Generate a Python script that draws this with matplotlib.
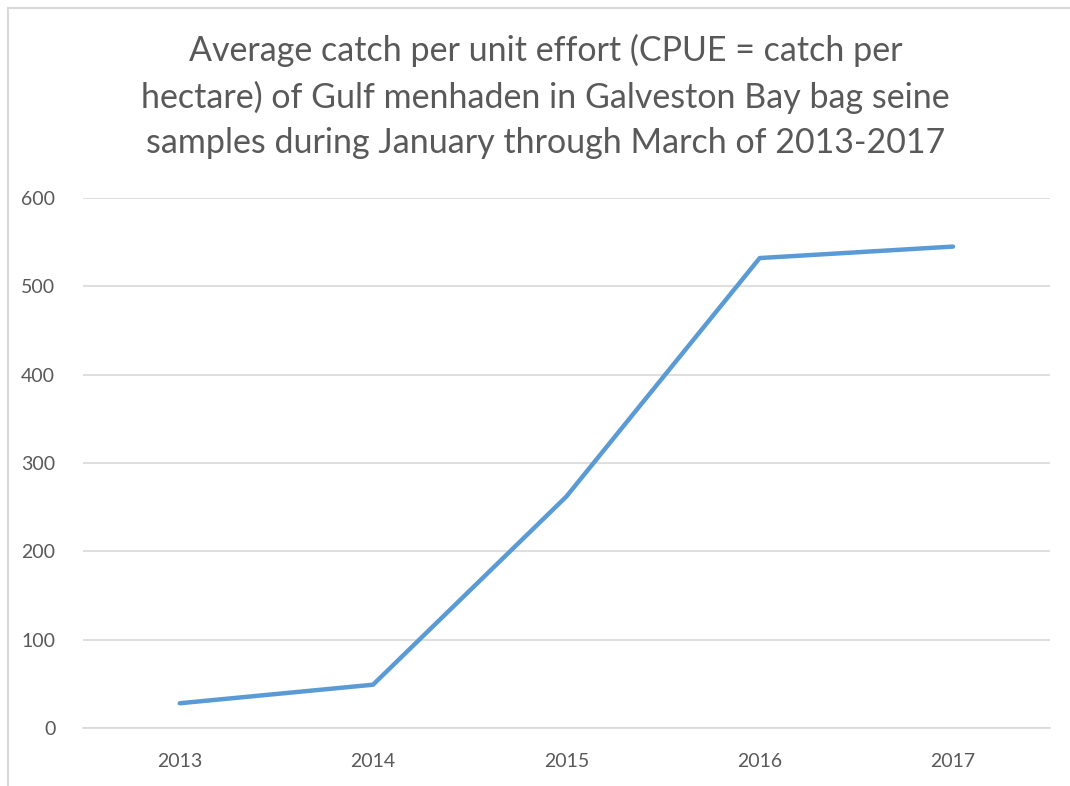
import matplotlib.pyplot as plt
from matplotlib.lines import Line2D

years = ["2013", "2014", "2015", "2016", "2017"]
cpue = [28, 49, 262, 532, 545]
y_ticks = [0, 100, 200, 300, 400, 500, 600]

title = ("Average catch per unit effort (CPUE = catch per\n"
         "hectare) of Gulf menhaden in Galveston Bay bag seine\n"
         "samples during January through March of 2013-2017")

plt.rcParams['font.family'] = ['Lato', 'DejaVu Sans']
text_color = "#595959"
grid_color = "#D9D9D9"

fig = plt.figure(figsize=(10.7, 7.86), dpi=100)
ax = fig.add_axes([0.0776, 0.0738, 0.9034, 0.6743])

x = list(range(len(years)))
ax.plot(x, cpue, color="#5B9BD5", linewidth=3.2, solid_capstyle="round",
        solid_joinstyle="round", zorder=3)

ax.set_xlim(-0.5, len(years) - 0.5)
ax.set_ylim(0, 600)
ax.set_yticks(y_ticks)
ax.set_xticks(x)
ax.set_xticklabels(years)
ax.yaxis.grid(True, color=grid_color, linewidth=1.2)
ax.set_axisbelow(True)
for side in ["top", "right", "left"]:
    ax.spines[side].set_visible(False)
ax.spines["bottom"].set_color(grid_color)
ax.spines["bottom"].set_linewidth(1.2)
ax.tick_params(axis="both", length=0, colors=text_color, labelsize=14)
ax.tick_params(axis="y", pad=20)
ax.tick_params(axis="x", pad=18)

fig.text(0.51, 0.877, title, ha="center", va="center", fontsize=24.5,
         color=text_color, linespacing=1.5)

# light chart-area frame (left and top edges)
fig.add_artist(Line2D([0.0075, 0.0075], [0, 0.99], color=grid_color,
                      linewidth=1.5, transform=fig.transFigure))
fig.add_artist(Line2D([0.0075, 1], [0.99, 0.99], color=grid_color,
                      linewidth=1.5, transform=fig.transFigure))

fig.savefig("out.png", dpi=100)
